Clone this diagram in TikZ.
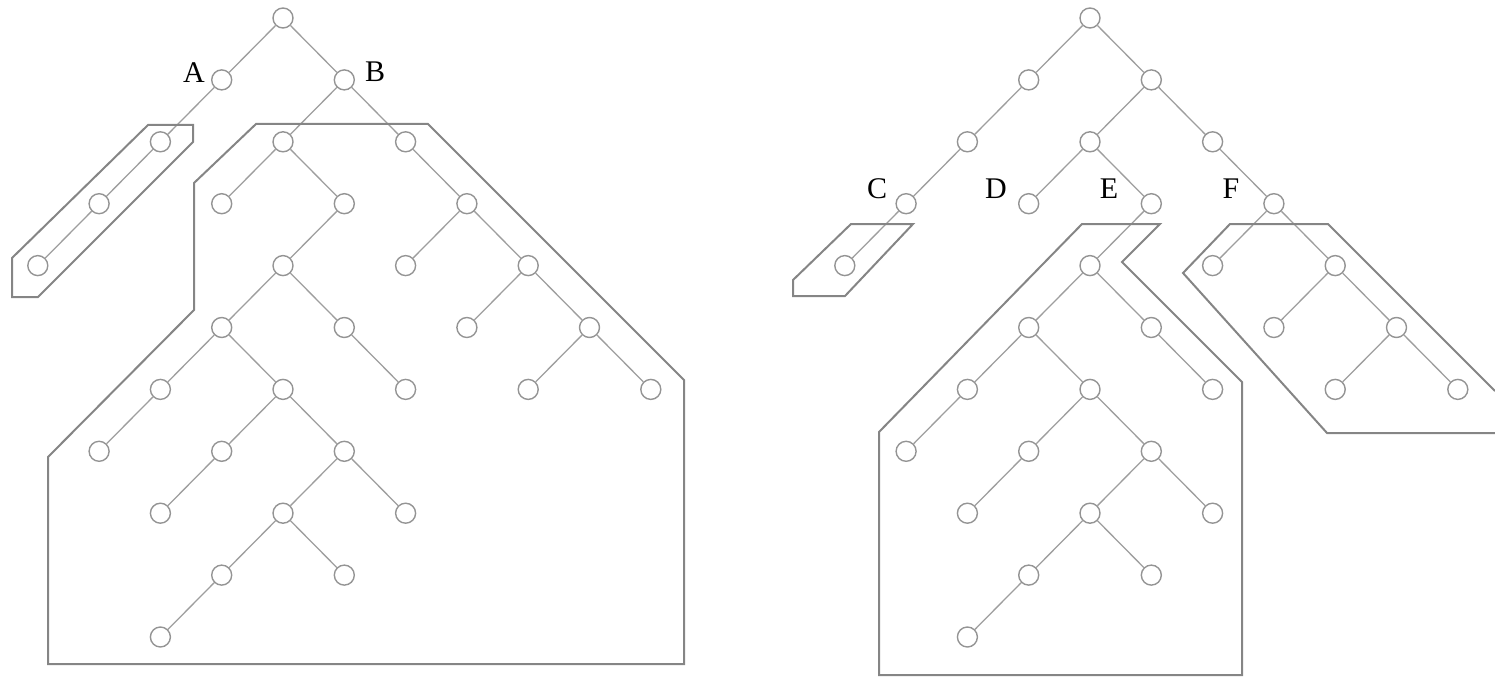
\documentclass[tikz,border=0pt]{standalone}
\usepackage{fontspec}
\setmainfont{Liberation Serif}
\begin{document}
\begin{tikzpicture}[x=1pt,y=-1pt,
  treenode/.style={circle,draw=black!42,line width=1.4pt,minimum size=20pt,inner sep=0pt},
  branch/.style={draw=black!38,line width=1.3pt},
  region/.style={draw=black!48,line width=2pt,line join=miter},
  tag/.style={font=\fontsize{30}{30}\selectfont,text=black,inner sep=0pt}]
\useasboundingbox (0,0) rectangle (1495,679);

% the same binary tree, drawn twice (left copy and right copy)
\foreach \t/\ox in {L/283, R/1090}{
  \foreach \n/\c/\r in {n0/0/0, a/-1/1, b/1/1, a1/-2/2, a2/-3/3, a3/-4/4,
      c/0/2, d/2/2, c1/-1/3, c2/1/3, e/0/4, e1/-1/5, e2/1/5, e3/2/6,
      f1/-2/6, f2/0/6, f3/-3/7, g1/-1/7, g2/1/7, g3/-2/8, h1/0/8, h2/2/8,
      i1/-1/9, i2/1/9, i3/-2/10, d1/3/3, d2/2/4, d3/4/4, d4/3/5, d5/5/5,
      d6/4/6, d7/6/6}
    \node[treenode] (\t-\n) at ({\ox+61.3*\c},{18+61.9*\r}) {};
  \foreach \p/\q in {n0/a, n0/b, a/a1, a1/a2, a2/a3, b/c, b/d, c/c1, c/c2,
      c2/e, e/e1, e/e2, e2/e3, e1/f1, e1/f2, f1/f3, f2/g1, f2/g2, g1/g3,
      g2/h1, g2/h2, h1/i1, h1/i2, i1/i3, d/d1, d1/d2, d1/d3, d3/d4, d3/d5,
      d5/d6, d5/d7}
    \draw[branch] (\t-\p) -- (\t-\q);
}

% labels
\node[tag] (labA) at (194,73) {A};
\node[tag] (labB) at (375,72) {B};
\node[tag] (labC) at (877,189) {C};
\node[tag] (labD) at (996,189) {D};
\node[tag] (labE) at (1109,189) {E};
\node[tag] (labF) at (1231,189) {F};

% outlines of the subtrees (left tree)
\draw[region] (12,297) -- (12,258) -- (148,125) -- (193,125) -- (193,142) -- (38,297) -- cycle;
\draw[region] (48,664) -- (48,457) -- (194,310) -- (194,183) -- (256,124) -- (428,124)
  -- (684,380) -- (684,664) -- cycle;

% outlines of the subtrees (right tree)
\draw[region] (793,296) -- (793,280) -- (851,224) -- (913,224) -- (845,296) -- cycle;
\draw[region] (879,675) -- (879,432) -- (1082,224) -- (1160,224) -- (1122,262)
  -- (1242,382) -- (1242,675) -- cycle;
\draw[region] (1495,391) -- (1328,224) -- (1230,224) -- (1183,273) -- (1327,433) -- (1495,433);
\end{tikzpicture}
\end{document}
